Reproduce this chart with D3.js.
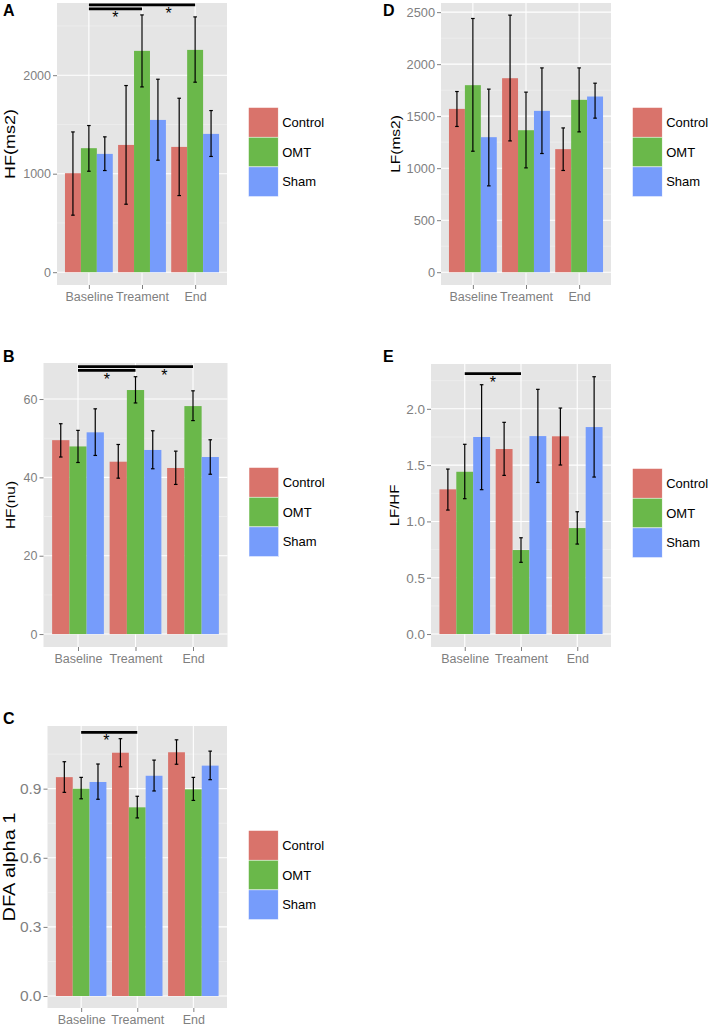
<!DOCTYPE html>
<html>
<head>
<meta charset="utf-8">
<script src="https://cdn.jsdelivr.net/npm/d3@7"></script>
<style>
  body { margin: 0; background: #fff; }
  svg { display: block; font-family: "Liberation Sans", Arial, sans-serif; }
</style>
</head>
<body>
<svg id="chart" width="708" height="1030"></svg>
<script>
// categories
const groups = ["Control", "OMT", "Sham"];
const phases = ["Baseline", "Treament", "End"];
const groupColors = ["#D9736B", "#6AB84A", "#769CFB"];

// values are [phase][group]
const hfMs2Mean = [[1005, 1259, 1201], [1292, 2247, 1546], [1272, 2257, 1404]];
const hfMs2Lo = [[579, 1025, 1032], [690, 1881, 1137], [778, 1929, 1175]];
const hfMs2Hi = [[1424, 1489, 1374], [1895, 2612, 1959], [1766, 2592, 1641]];

const lfMs2Mean = [[1570, 1798, 1298], [1865, 1365, 1551], [1183, 1657, 1689]];
const lfMs2Lo = [[1401, 1163, 830], [1262, 1003, 1141], [978, 1349, 1481]];
const lfMs2Hi = [[1737, 2439, 1760], [2471, 1731, 1964], [1387, 1964, 1817]];

const hfNuMean = [[49.5, 47.9, 51.5], [44.0, 62.3, 47.0], [42.4, 58.2, 45.2]];
const hfNuLo = [[45.2, 43.8, 45.6], [39.8, 59.0, 42.2], [38.2, 54.5, 40.8]];
const hfNuHi = [[53.7, 52.0, 57.5], [48.4, 65.7, 51.9], [46.7, 62.1, 49.6]];

const lfHfMean = [[1.285, 1.441, 1.750], [1.643, 0.746, 1.758], [1.756, 0.941, 1.838]];
const lfHfLo = [[1.101, 1.202, 1.282], [1.409, 0.637, 1.346], [1.501, 0.799, 1.394]];
const lfHfHi = [[1.465, 1.685, 2.214], [1.880, 0.855, 2.173], [2.007, 1.086, 2.285]];

const dfaMean = [[0.950, 0.900, 0.929], [1.056, 0.819, 0.956], [1.058, 0.897, 1.000]];
const dfaLo = [[0.884, 0.856, 0.854], [0.995, 0.773, 0.890], [1.006, 0.849, 0.939]];
const dfaHi = [[1.017, 0.949, 1.007], [1.117, 0.867, 1.024], [1.112, 0.949, 1.063]];

// tick labels
const hfMs2Ticks = [0, 1000, 2000];
const lfMs2Ticks = [0, 500, 1000, 1500, 2000, 2500];
const hfNuTicks = [0, 20, 40, 60];
const lfHfTicks = [0, 0.5, 1.0, 1.5, 2.0];
const dfaTicks = [0, 0.3, 0.6, 0.9];

// significance brackets: from/to phase index, line value, star position (phase units) and value
const hfMs2Sig = [
  { from: 0, to: 1, y: 2673, starAt: 0.5, starY: 2619 },
  { from: 0, to: 2, y: 2714, starAt: 1.5, starY: 2660 },
];
const lfMs2Sig = [];
const hfNuSig = [
  { from: 0, to: 1, y: 67.3, starAt: 0.5, starY: 65.9 },
  { from: 0, to: 2, y: 68.3, starAt: 1.5, starY: 66.9 },
];
const lfHfSig = [{ from: 0, to: 1, y: 2.312, starAt: 0.5, starY: 2.265 }];
const dfaSig = [{ from: 0, to: 1, y: 1.1445, starAt: 0.45, starY: 1.123 }];

const panels = [
  { tag: "A", title: "HF(ms2)", mean: hfMs2Mean, lo: hfMs2Lo, hi: hfMs2Hi, ticks: hfMs2Ticks, sig: hfMs2Sig, fmt: d3.format("d"),
    left: 57, right: 227, top: 3, bottom: 285, domain: [-130, 2733], titleX: 10, titleSize: 18, tickFont: 12.5, tagX: 3, tagY: 16 },
  { tag: "D", title: "LF(ms2)", mean: lfMs2Mean, lo: lfMs2Lo, hi: lfMs2Hi, ticks: lfMs2Ticks, sig: lfMs2Sig, fmt: d3.format("d"),
    left: 441, right: 611, top: 3, bottom: 285, domain: [-123, 2588], titleX: 395, titleSize: 15.5, tickFont: 12.8, tagX: 383, tagY: 16 },
  { tag: "B", title: "HF(nu)", mean: hfNuMean, lo: hfNuLo, hi: hfNuHi, ticks: hfNuTicks, sig: hfNuSig, fmt: d3.format("d"),
    left: 43.5, right: 227.5, top: 363, bottom: 647, domain: [-3.3, 69.2], titleX: 10, titleSize: 15.5, tickFont: 12.5, tagX: 3, tagY: 362 },
  { tag: "E", title: "LF/HF", mean: lfHfMean, lo: lfHfLo, hi: lfHfHi, ticks: lfHfTicks, sig: lfHfSig, fmt: d3.format(".1f"),
    left: 431, right: 611, top: 364, bottom: 647, domain: [-0.115, 2.398], titleX: 394, titleSize: 15, tickFont: 13.5, tagX: 383, tagY: 362 },
  { tag: "C", title: "DFA alpha 1", mean: dfaMean, lo: dfaLo, hi: dfaHi, ticks: dfaTicks, sig: dfaSig, fmt: d3.format(".1f"),
    left: 47.5, right: 227, top: 726, bottom: 1008, domain: [-0.052, 1.172], titleX: 10, titleSize: 20, tickFont: 15.5, tagX: 3, tagY: 724 },
];

const svg = d3.select("#chart");

function drawPanel(p) {
  const g = svg.append("g");
  const y = d3.scaleLinear().domain(p.domain).range([p.bottom, p.top]);
  // discrete x axis with 0.6 expansion on each side
  const x = d3.scaleLinear().domain([-0.6, phases.length - 0.4]).range([p.left, p.right]);
  const bandW = 0.9;
  const barW = bandW / groups.length;

  g.append("rect").attr("x", p.left).attr("y", p.top).attr("width", p.right - p.left).attr("height", p.bottom - p.top).attr("fill", "#E5E5E5");

  // minor grid at midpoints of major ticks
  const tickStep = p.ticks[1] - p.ticks[0];
  const minor = d3.range(p.ticks.length).map((i) => p.ticks[i] + tickStep / 2).filter((v) => y(v) > p.top);
  g.selectAll(".minor").data(minor).enter().append("line")
    .attr("x1", p.left).attr("x2", p.right).attr("y1", (d) => y(d)).attr("y2", (d) => y(d))
    .attr("stroke", "#F2F2F2").attr("stroke-width", 0.6);

  g.selectAll(".major").data(p.ticks).enter().append("line")
    .attr("x1", p.left).attr("x2", p.right).attr("y1", (d) => y(d)).attr("y2", (d) => y(d))
    .attr("stroke", "#fff").attr("stroke-width", 1.1);
  g.selectAll(".vgrid").data(phases).enter().append("line")
    .attr("x1", (d, i) => x(i)).attr("x2", (d, i) => x(i)).attr("y1", p.top).attr("y2", p.bottom)
    .attr("stroke", "#fff").attr("stroke-width", 1.1);

  // y axis
  const yAxis = g.append("g").attr("transform", `translate(${p.left},0)`)
    .call(d3.axisLeft(y).tickValues(p.ticks).tickFormat(p.fmt).tickSize(4).tickPadding(2));
  yAxis.select(".domain").remove();
  yAxis.selectAll("line").attr("stroke", "#7F7F7F");
  yAxis.selectAll("text").attr("fill", "#7F7F7F").attr("font-size", p.tickFont).attr("font-family", "Liberation Sans, Arial, sans-serif");

  // x axis
  const xAxis = g.append("g").attr("transform", `translate(0,${p.bottom})`)
    .call(d3.axisBottom(x).tickValues(d3.range(phases.length)).tickFormat((i) => phases[i]).tickSize(4).tickPadding(3));
  xAxis.select(".domain").remove();
  xAxis.selectAll("line").attr("stroke", "#7F7F7F");
  xAxis.selectAll("text").attr("fill", "#7F7F7F").attr("font-size", 12.5).attr("font-family", "Liberation Sans, Arial, sans-serif");

  // bars
  const cells = [];
  phases.forEach((ph, i) => groups.forEach((gr, j) => cells.push({ i, j, v: p.mean[i][j], lo: p.lo[i][j], hi: p.hi[i][j] })));
  const bx = (d) => x(d.i - bandW / 2 + d.j * barW);
  g.selectAll(".bar").data(cells).enter().append("rect")
    .attr("x", bx).attr("width", x(barW) - x(0))
    .attr("y", (d) => y(d.v)).attr("height", (d) => y(0) - y(d.v))
    .attr("fill", (d) => groupColors[d.j]);

  // error bars
  const cx = (d) => x(d.i - bandW / 2 + (d.j + 0.5) * barW);
  const cap = 1.8;
  const eb = g.selectAll(".eb").data(cells).enter().append("g").attr("stroke", "#000").attr("stroke-width", 1.2);
  eb.append("line").attr("x1", cx).attr("x2", cx).attr("y1", (d) => y(d.lo)).attr("y2", (d) => y(d.hi));
  eb.append("line").attr("x1", (d) => cx(d) - cap).attr("x2", (d) => cx(d) + cap).attr("y1", (d) => y(d.lo)).attr("y2", (d) => y(d.lo));
  eb.append("line").attr("x1", (d) => cx(d) - cap).attr("x2", (d) => cx(d) + cap).attr("y1", (d) => y(d.hi)).attr("y2", (d) => y(d.hi));

  // significance
  p.sig.forEach((s) => {
    g.append("line").attr("x1", x(s.from)).attr("x2", x(s.to)).attr("y1", y(s.y)).attr("y2", y(s.y))
      .attr("stroke", "#000").attr("stroke-width", 2.8);
    g.append("text").attr("x", x(s.starAt)).attr("y", y(s.starY) + 9).attr("text-anchor", "middle")
      .attr("font-size", 16).attr("fill", "#000").text("*");
  });

  // y title
  const cy = (p.top + p.bottom) / 2;
  g.append("text").attr("transform", `translate(${p.titleX + 5},${cy}) scale(0.85,1) rotate(-90)`).attr("text-anchor", "middle")
    .attr("font-size", p.titleSize).attr("fill", "#000").text(p.title);

  // panel tag
  g.append("text").attr("x", p.tagX).attr("y", p.tagY).attr("font-size", 16).attr("font-weight", "bold").attr("fill", "#000").text(p.tag);

  // legend
  const key = 29.7;
  const lg = g.append("g").attr("transform", `translate(${p.right + 21.5},${p.top + 104.5})`);
  groups.forEach((gr, j) => {
    lg.append("rect").attr("x", 0).attr("y", j * key).attr("width", key).attr("height", key)
      .attr("fill", groupColors[j]).attr("stroke", "#fff").attr("stroke-width", 0.5);
    lg.append("text").attr("x", key + 4).attr("y", j * key + key / 2 + 4.5).attr("font-size", 13).attr("fill", "#000").text(gr);
  });
}

panels.forEach(drawPanel);
</script>
</body>
</html>
